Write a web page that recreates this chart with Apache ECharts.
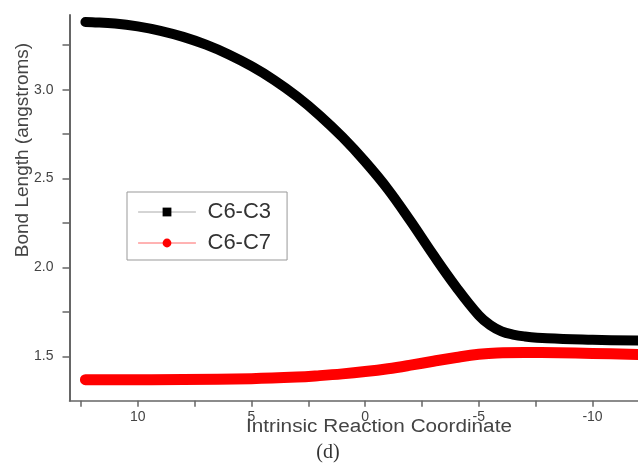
<!DOCTYPE html>
<html>
<head>
<meta charset="utf-8">
<script src="https://cdn.jsdelivr.net/npm/echarts@6/dist/echarts.min.js"></script>
<style>
html,body{margin:0;padding:0;background:#fff;}
#chart{width:638px;height:463px;}
</style>
</head>
<body>
<div id="chart"></div>
<script>
// Series names
const seriesNames = ['C6-C3', 'C6-C7'];
// C6-C3 bond length vs IRC
const c6c3X = [12.3, 12, 11, 10, 9, 8, 7, 6, 5, 4, 3, 2, 1, 0, -1, -2, -3, -4, -5, -5.5, -6, -6.5, -7, -8, -10, -12.5];
const c6c3Y = [3.380, 3.379, 3.372, 3.356, 3.331, 3.297, 3.253, 3.198, 3.132, 3.054, 2.962, 2.855, 2.733, 2.595, 2.440, 2.260, 2.070, 1.890, 1.730, 1.675, 1.640, 1.622, 1.612, 1.601, 1.593, 1.587];
// C6-C7 bond length vs IRC
const c6c7X = [12.3, 8, 5, 3, 2, 1, 0, -1, -2, -3, -4, -5, -5.8, -7, -8.5, -10, -12.5];
const c6c7Y = [1.368, 1.369, 1.374, 1.383, 1.391, 1.401, 1.414, 1.430, 1.450, 1.472, 1.493, 1.511, 1.519, 1.521, 1.520, 1.516, 1.508];
// Axis ticks / labels
const xLabelValues = [10, 5, 0, -5, -10];
const xTickValues = [12.5, 10, 7.5, 5, 2.5, 0, -2.5, -5, -7.5, -10];
const yLabelValues = [1.5, 2.0, 2.5, 3.0];
const yTickValues = [1.5, 1.75, 2.0, 2.25, 2.5, 2.75, 3.0, 3.25];
const xTitle = 'Intrinsic Reaction Coordinate';
const yTitle = 'Bond Length (angstroms)';
const caption = '(d)';

const zip = (xs, ys) => xs.map((x, i) => [x, ys[i]]);

const chart = echarts.init(document.getElementById('chart'), null, {renderer: 'canvas'});
const axisColor = '#666';
const font = 'Liberation Sans, Arial, sans-serif';
chart.setOption({
  animation: false,
  backgroundColor: '#fff',
  grid: {left: 69.5, right: 0, top: 15, bottom: 62.3, containLabel: false},
  xAxis: {
    type: 'value', inverse: true, min: -12, max: 13,
    axisLine: {show: true, onZero: false, lineStyle: {color: axisColor, width: 1.5}},
    axisTick: {show: true, customValues: xTickValues, length: 6, lineStyle: {color: axisColor, width: 1.5}},
    axisLabel: {customValues: xLabelValues, margin: 9, fontSize: 14, color: '#444', fontFamily: font},
    splitLine: {show: false}
  },
  yAxis: {
    type: 'value', min: 1.25, max: 3.42,
    axisLine: {show: true, onZero: false, lineStyle: {color: axisColor, width: 2}},
    axisTick: {show: true, customValues: yTickValues, length: 7, lineStyle: {color: axisColor, width: 1.5}},
    axisLabel: {customValues: yLabelValues, margin: 16, fontSize: 14, color: '#444', fontFamily: font,
      formatter: v => v.toFixed(1)},
    splitLine: {show: false}
  },
  legend: {
    orient: 'vertical', left: 127, top: 192,
    padding: [9, 16, 6, 11], itemGap: 9, itemWidth: 57, itemHeight: 11,
    borderColor: '#999', borderWidth: 1, backgroundColor: '#fff',
    textStyle: {fontSize: 22, color: '#333', fontFamily: font, lineHeight: 22, padding: [0, 0, 0, 7]},
    data: [
      {name: seriesNames[0], itemStyle: {color: '#000'}, lineStyle: {color: '#aaa', width: 1}},
      {name: seriesNames[1], itemStyle: {color: '#f00'}, lineStyle: {color: '#f66', width: 1}}
    ]
  },
  series: [
    {
      name: seriesNames[0], type: 'line', smooth: 0.4, showSymbol: false, symbol: 'rect', symbolSize: 9,
      data: zip(c6c3X, c6c3Y), clip: true,
      lineStyle: {color: '#000', width: 10, cap: 'round', join: 'round'},
      itemStyle: {color: '#000'}
    },
    {
      name: seriesNames[1], type: 'line', smooth: 0.4, showSymbol: false, symbol: 'circle', symbolSize: 10,
      data: zip(c6c7X, c6c7Y), clip: true,
      lineStyle: {color: '#f00', width: 11, cap: 'round', join: 'round'},
      itemStyle: {color: '#f00'}
    }
  ],
  graphic: [
    {type: 'text', x: 379, y: 427, scaleX: 1.15,
      style: {text: xTitle, fontSize: 18, fill: '#444', fontFamily: font, align: 'center', verticalAlign: 'middle'}},
    {type: 'text', x: 23, y: 150, rotation: Math.PI / 2,
      style: {text: yTitle, fontSize: 19, fill: '#444', fontFamily: font, align: 'center', verticalAlign: 'middle'}},
    {type: 'text', x: 328, y: 453,
      style: {text: caption, fontSize: 20, fill: '#333', fontFamily: 'Liberation Serif, DejaVu Serif, serif', align: 'center', verticalAlign: 'middle'}}
  ]
});
</script>
</body>
</html>
